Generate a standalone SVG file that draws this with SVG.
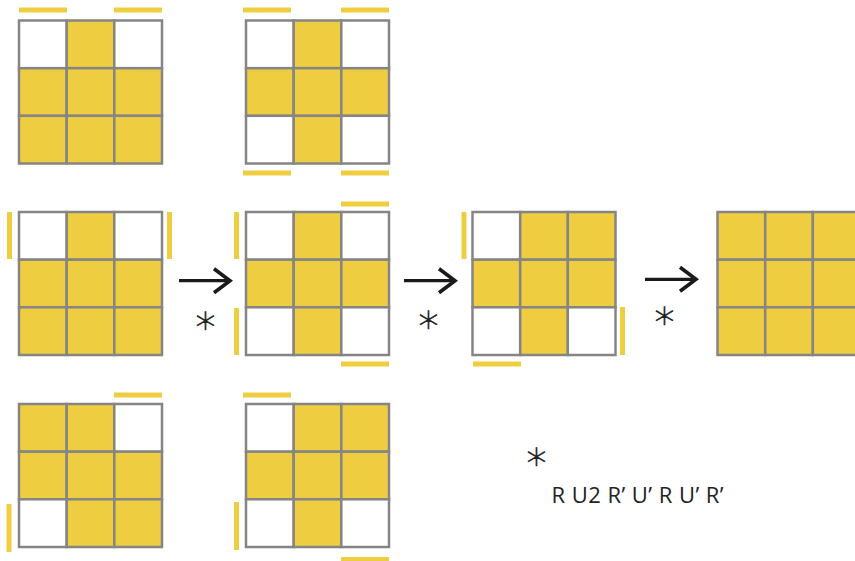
<svg xmlns="http://www.w3.org/2000/svg" width="855" height="561" viewBox="0 0 855 561">
<defs>
<style>
.y{fill:#EECD40;stroke:#858585;stroke-width:2.5}
.w{fill:#FFFFFF;stroke:#858585;stroke-width:2.5}
.bar{fill:#EECD40}
.arr{stroke:#1A1A1A;stroke-width:3.2;fill:none}
.ast{font-family:"DejaVu Sans",sans-serif;font-weight:200;font-size:40px;fill:#1A1A1A;stroke:#1A1A1A;stroke-width:0.6;text-anchor:middle}
.lbl{font-family:"Open Sans","Liberation Sans",sans-serif;font-size:22px;fill:#222}
</style>
<marker id="head" markerUnits="userSpaceOnUse" markerWidth="40" markerHeight="40" viewBox="-20 -20 40 40" refX="0" refY="0" orient="auto">
<path d="M-16,-12 L0,0 L-16,12" fill="none" stroke="#1A1A1A" stroke-width="3.6" stroke-linejoin="miter"/>
</marker>
</defs>
<rect width="855" height="561" fill="#FFFFFF"/>

<g id="grid-a1">
<rect class="w" x="19" y="20.5" width="47.7" height="47.7"/><rect class="y" x="66.7" y="20.5" width="47.7" height="47.7"/><rect class="w" x="114.3" y="20.5" width="47.7" height="47.7"/>
<rect class="y" x="19" y="68.2" width="47.7" height="47.7"/><rect class="y" x="66.7" y="68.2" width="47.7" height="47.7"/><rect class="y" x="114.3" y="68.2" width="47.7" height="47.7"/>
<rect class="y" x="19" y="115.8" width="47.7" height="47.7"/><rect class="y" x="66.7" y="115.8" width="47.7" height="47.7"/><rect class="y" x="114.3" y="115.8" width="47.7" height="47.7"/>
<rect class="bar" x="19" y="7.5" width="48" height="5"/><rect class="bar" x="114" y="7.5" width="48" height="5"/>
</g>

<g id="grid-b1">
<rect class="w" x="246" y="20.5" width="47.7" height="47.7"/><rect class="y" x="293.7" y="20.5" width="47.7" height="47.7"/><rect class="w" x="341.3" y="20.5" width="47.7" height="47.7"/>
<rect class="y" x="246" y="68.2" width="47.7" height="47.7"/><rect class="y" x="293.7" y="68.2" width="47.7" height="47.7"/><rect class="y" x="341.3" y="68.2" width="47.7" height="47.7"/>
<rect class="w" x="246" y="115.8" width="47.7" height="47.7"/><rect class="y" x="293.7" y="115.8" width="47.7" height="47.7"/><rect class="w" x="341.3" y="115.8" width="47.7" height="47.7"/>
<rect class="bar" x="243" y="7.5" width="48" height="5"/><rect class="bar" x="341" y="7.5" width="48" height="5"/>
<rect class="bar" x="243" y="170.5" width="48" height="5"/><rect class="bar" x="341" y="170.5" width="48" height="5"/>
</g>

<g id="grid-a2">
<rect class="w" x="19" y="212" width="47.7" height="47.7"/><rect class="y" x="66.7" y="212" width="47.7" height="47.7"/><rect class="w" x="114.3" y="212" width="47.7" height="47.7"/>
<rect class="y" x="19" y="259.7" width="47.7" height="47.7"/><rect class="y" x="66.7" y="259.7" width="47.7" height="47.7"/><rect class="y" x="114.3" y="259.7" width="47.7" height="47.7"/>
<rect class="y" x="19" y="307.3" width="47.7" height="47.7"/><rect class="y" x="66.7" y="307.3" width="47.7" height="47.7"/><rect class="y" x="114.3" y="307.3" width="47.7" height="47.7"/>
<rect class="bar" x="7" y="212" width="5" height="47"/><rect class="bar" x="167" y="212" width="5" height="47"/>
</g>

<g id="grid-b2">
<rect class="w" x="246" y="212" width="47.7" height="47.7"/><rect class="y" x="293.7" y="212" width="47.7" height="47.7"/><rect class="w" x="341.3" y="212" width="47.7" height="47.7"/>
<rect class="y" x="246" y="259.7" width="47.7" height="47.7"/><rect class="y" x="293.7" y="259.7" width="47.7" height="47.7"/><rect class="y" x="341.3" y="259.7" width="47.7" height="47.7"/>
<rect class="w" x="246" y="307.3" width="47.7" height="47.7"/><rect class="y" x="293.7" y="307.3" width="47.7" height="47.7"/><rect class="w" x="341.3" y="307.3" width="47.7" height="47.7"/>
<rect class="bar" x="234" y="212" width="5" height="47"/><rect class="bar" x="234" y="308" width="5" height="47"/>
<rect class="bar" x="341" y="201.5" width="48" height="5"/><rect class="bar" x="341" y="361.5" width="48" height="5"/>
</g>

<g id="grid-c2">
<rect class="w" x="472.5" y="212" width="47.7" height="47.7"/><rect class="y" x="520.2" y="212" width="47.7" height="47.7"/><rect class="y" x="567.8" y="212" width="47.7" height="47.7"/>
<rect class="y" x="472.5" y="259.7" width="47.7" height="47.7"/><rect class="y" x="520.2" y="259.7" width="47.7" height="47.7"/><rect class="y" x="567.8" y="259.7" width="47.7" height="47.7"/>
<rect class="w" x="472.5" y="307.3" width="47.7" height="47.7"/><rect class="y" x="520.2" y="307.3" width="47.7" height="47.7"/><rect class="w" x="567.8" y="307.3" width="47.7" height="47.7"/>
<rect class="bar" x="461.5" y="212" width="5" height="47"/><rect class="bar" x="620" y="307" width="5" height="48"/>
<rect class="bar" x="473" y="361.5" width="48" height="5"/>
</g>

<g id="grid-d2">
<rect class="y" x="717.5" y="212" width="47.7" height="47.7"/><rect class="y" x="765.2" y="212" width="47.7" height="47.7"/><rect class="y" x="812.8" y="212" width="47.7" height="47.7"/>
<rect class="y" x="717.5" y="259.7" width="47.7" height="47.7"/><rect class="y" x="765.2" y="259.7" width="47.7" height="47.7"/><rect class="y" x="812.8" y="259.7" width="47.7" height="47.7"/>
<rect class="y" x="717.5" y="307.3" width="47.7" height="47.7"/><rect class="y" x="765.2" y="307.3" width="47.7" height="47.7"/><rect class="y" x="812.8" y="307.3" width="47.7" height="47.7"/>
</g>

<g id="grid-a3">
<rect class="y" x="19" y="404" width="47.7" height="47.7"/><rect class="y" x="66.7" y="404" width="47.7" height="47.7"/><rect class="w" x="114.3" y="404" width="47.7" height="47.7"/>
<rect class="y" x="19" y="451.7" width="47.7" height="47.7"/><rect class="y" x="66.7" y="451.7" width="47.7" height="47.7"/><rect class="y" x="114.3" y="451.7" width="47.7" height="47.7"/>
<rect class="w" x="19" y="499.3" width="47.7" height="47.7"/><rect class="y" x="66.7" y="499.3" width="47.7" height="47.7"/><rect class="y" x="114.3" y="499.3" width="47.7" height="47.7"/>
<rect class="bar" x="114" y="392.5" width="48" height="5"/><rect class="bar" x="6.5" y="504" width="5" height="48"/>
</g>

<g id="grid-b3">
<rect class="w" x="246" y="404" width="47.7" height="47.7"/><rect class="y" x="293.7" y="404" width="47.7" height="47.7"/><rect class="y" x="341.3" y="404" width="47.7" height="47.7"/>
<rect class="y" x="246" y="451.7" width="47.7" height="47.7"/><rect class="y" x="293.7" y="451.7" width="47.7" height="47.7"/><rect class="y" x="341.3" y="451.7" width="47.7" height="47.7"/>
<rect class="w" x="246" y="499.3" width="47.7" height="47.7"/><rect class="y" x="293.7" y="499.3" width="47.7" height="47.7"/><rect class="w" x="341.3" y="499.3" width="47.7" height="47.7"/>
<rect class="bar" x="243" y="392.5" width="48" height="5"/><rect class="bar" x="234" y="502" width="5" height="48"/>
<rect class="bar" x="341" y="557" width="48" height="5"/>
</g>

<g id="connectors">
<line class="arr" x1="179" y1="280.7" x2="230" y2="280.7" marker-end="url(#head)"/>
<line class="arr" x1="404" y1="280.7" x2="455" y2="280.7" marker-end="url(#head)"/>
<line class="arr" x1="645" y1="279.3" x2="696" y2="279.3" marker-end="url(#head)"/>
</g>

<g id="labels">
<text class="ast" x="205.5" y="342">*</text>
<text class="ast" x="428.5" y="341">*</text>
<text class="ast" x="664.5" y="336.5">*</text>
<text class="ast" x="536.5" y="478">*</text>
<text class="lbl" x="551.5" y="503" textLength="172" lengthAdjust="spacing">R U2 R’ U’ R U’ R’</text>
</g>
</svg>
